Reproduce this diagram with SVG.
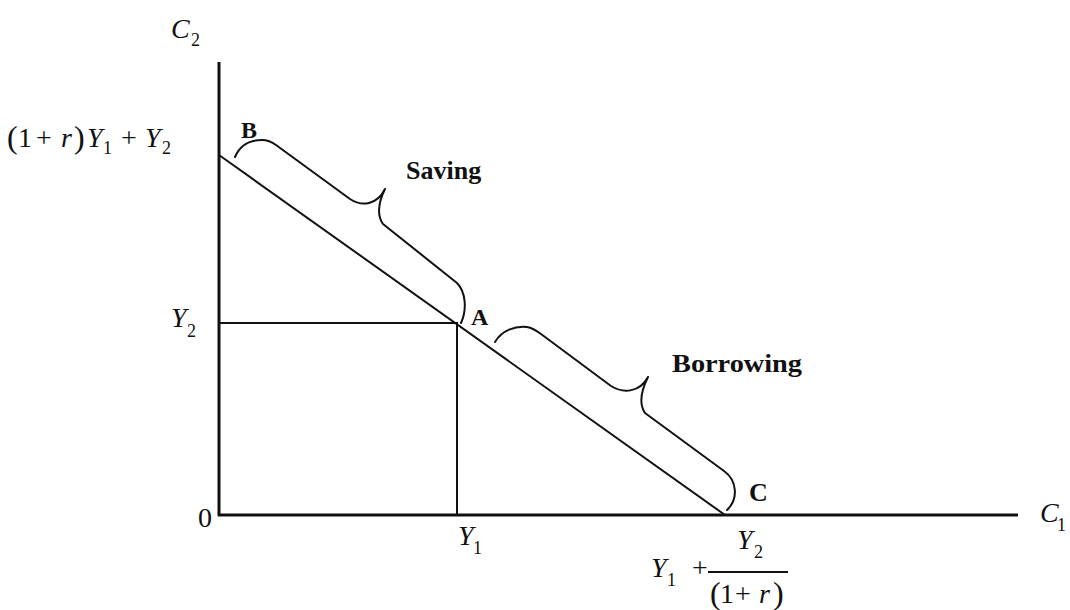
<svg xmlns="http://www.w3.org/2000/svg" width="1070" height="610" viewBox="0 0 1070 610">
<style>
.m{font-family:"Liberation Serif","Times New Roman",serif;font-size:28px;fill:#111}
.i{font-style:italic}
.s{font-size:18px}
.p{font-size:32px}
.b{font-family:"Liberation Serif","Times New Roman",serif;font-weight:bold;fill:#111}
.ax{stroke:#111;stroke-width:3;fill:none}
.ln{stroke:#111;stroke-width:2;fill:none}
.br{stroke:#111;stroke-width:2;fill:none;stroke-linejoin:round;stroke-linecap:round}
</style>
<rect width="1070" height="610" fill="#fff"/>
<g id="axes">
<line class="ax" x1="219" y1="62" x2="219" y2="516"/>
<line class="ax" x1="218" y1="515" x2="1018" y2="515"/>
</g>
<g id="connectors">
<line class="ln" x1="219" y1="155" x2="725" y2="515"/>
<line class="ln" x1="219" y1="323" x2="457" y2="323"/>
<line class="ln" x1="457" y1="322" x2="457" y2="515"/>
</g>
<g id="brace-saving">
<path class="br" d="M235,157 C240,145 250,140 262,140 C268,140 272,142 276,145 L350,199 C362,207 377,205 385,189 C378,203 377,216 383,224 L457,283 C466,292 467,310 461,323"/>
</g>
<g id="brace-borrowing">
<path class="br" d="M495,342 C502,330 515,326 527,327 C533,328 537,331 541,334 L611,386 C624,394 640,392 648,377 C641,391 639,404 645,413 L724,471 C738,481 738,500 727,510"/>
</g>
<g id="labels">
<text class="b" x="241" y="138" font-size="24">B</text>
<text class="b" x="471" y="325" font-size="24">A</text>
<text class="b" x="749" y="501" font-size="26">C</text>
<text class="b" x="406" y="179" font-size="26">Saving</text>
<text class="b" x="672" y="372" font-size="26" textLength="130" lengthAdjust="spacingAndGlyphs">Borrowing</text>
</g>
<g id="axis-labels">
<text class="m"><tspan class="i" x="171" y="38">C</tspan><tspan class="s" x="191" y="46">2</tspan></text>
<text class="m"><tspan class="i" x="1040" y="522">C</tspan><tspan class="s" x="1057" y="531">1</tspan></text>
<text class="m" x="198" y="527">0</text>
<text class="m"><tspan class="i" x="171" y="327">Y</tspan><tspan class="s" x="187" y="337">2</tspan></text>
<text class="m"><tspan class="i" x="458" y="545">Y</tspan><tspan class="s" x="473" y="554">1</tspan></text>
<text class="m"><tspan class="p" x="7" y="148">(</tspan><tspan x="18" y="147">1</tspan><tspan x="36" y="147">+</tspan><tspan class="i" x="61" y="147">r</tspan><tspan class="p" x="74" y="148">)</tspan><tspan class="i" x="87" y="147">Y</tspan><tspan class="s" x="103" y="154">1</tspan><tspan x="121" y="147">+</tspan><tspan class="i" x="145" y="147">Y</tspan><tspan class="s" x="162" y="154">2</tspan></text>
<text class="m"><tspan class="i" x="651" y="577">Y</tspan><tspan class="s" x="667" y="586">1</tspan><tspan x="692" y="577">+</tspan></text>
<line class="ln" x1="708" y1="572" x2="788" y2="572"/>
<text class="m"><tspan class="i" x="737" y="549">Y</tspan><tspan class="s" x="754" y="558">2</tspan></text>
<text class="m"><tspan class="p" x="710" y="604">(</tspan><tspan x="720" y="603">1</tspan><tspan x="735" y="603">+</tspan><tspan class="i" x="759" y="603">r</tspan><tspan class="p" x="773" y="604">)</tspan></text>
</g>
</svg>
